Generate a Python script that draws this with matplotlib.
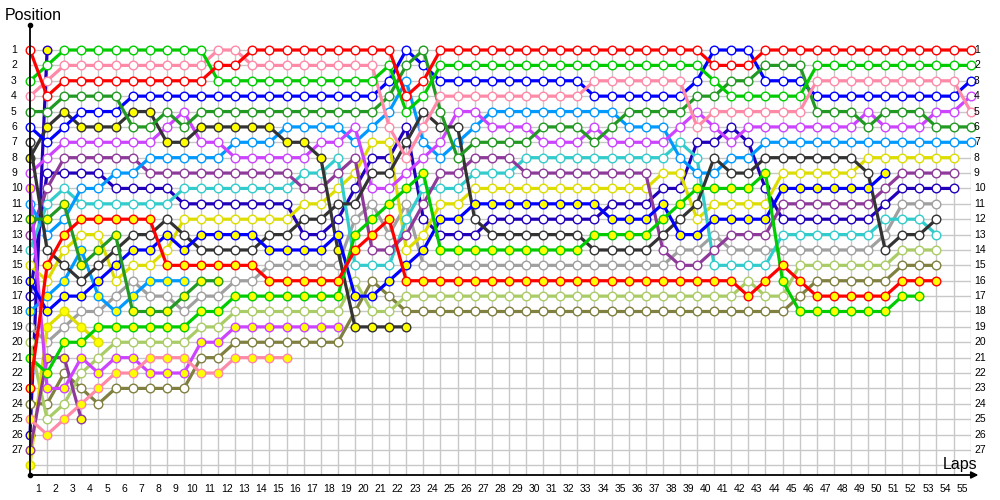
import matplotlib
matplotlib.use('Agg')
import matplotlib.pyplot as plt
from matplotlib.transforms import blended_transform_factory

# ---------------- data (position per lap, lap 0 = grid) ----------------
laps_total = 55
positions = list(range(1, 28))

red_w = [1,4,3, 3,3,3,3,3,3,3,3, 2,2, 1,1,1,1,1,1,1,1,1, 4,3,
         1,1,1,1,1,1,1,1,1,1,1,1,1,1,1,1, 2,2,2, 1,1,1,1,1,1,1,1,1,1,1,1,1]
green_w = [3,2, 1,1,1,1,1,1,1,1,1, 3,3,3,3,3,3,3,3,3,3, 2,5,4,
           2,2,2,2,2,2,2,2,2,2,2,2,2,2,2,2, 3, 4,4,4,4,4, 2,2,2,2,2,2,2,2,2,2]
pink_w = [4,3, 2,2,2,2,2,2,2,2,2, 1,1, 2,2,2,2,2,2,2,2, 6,8,6,
          4,4,4,4,4,4,4,4,4, 3,3,3,3,3,3, 6, 5,5,5,5,5,5, 3,3,3,3,3,3,3,3,3, 5]
dkgreen_w = [5,5, 4,4,4,4, 6,6,5,6, 5,5,5,5,5,5,5,5,5,5,5, 4,2,1,5,8,
             7,7,7,7, 6,6,6, 7,6, 5,5,5,5, 4,4, 3,3, 2,2,2, 5,5,5, 6, 5,5,5, 6,6,6]
blue_w = [6,7,6, 5,5,5, 4,4,4,4,4,4,4,4,4,4,4,4,4,4,4, 3,1,2,
          3,3,3,3,3,3,3,3,3, 4,4,4,4,4,4, 3, 1,1,1, 3,3,3, 4,4,4,4,4,4,4,4,4, 3]
black_w = [7,14,15,16,15,14,13,13,12,13, 14,14,14,14, 13,13, 12,12, 11,11, 9,9, 7,5, 6,6,
           12, 13,13,13,13,13,13, 14,14,14,14, 13,12,11, 8, 9,9, 8,8,8,8,8,8, 9, 14, 13,13, 12]
black_y = [8,6,5, 6,6,6, 5,5, 7,7, 6,6,6,6,6, 7,7, 8, 14, 19,19,19,19]
magenta_w = [9,8, 7,7,7,7,7,7, 6,5, 7,7, 8,8,8,8,8, 7,7, 6, 10,10, 9,8,7, 5,5,
             6,6,6, 7,7,7, 6, 7,7,7,7, 6,5,6,7, 6,6,6,6,6,6,6, 5, 6,6,6, 5,5, 4]
magenta_y = [10,23,23,21,22,21,21, 22,22,22, 20,20, 19,19,19,19,19,19,19]
ltblue_w = [11,13,12, 10,10, 9,9, 8,8,8,8,8, 7,7,7, 6,6,6,6, 7,6,5,3,7,8,7,6,
            5,5,5,5,5,5,5,5, 6,6,6, 8, 9,9, 8,8, 7,7,7,7,7,7,7,7,7,7,7,7,7]
ltblue_y = [18,17,16,14,17,18,17,16,16,16]
dkgreen_y = [12,12,11,15,14,13,18,18,18,17,16,16]
dkpurple_w = [13,10, 8,8,8,8,8, 9,9,9,9,9,9,9,9,9, 10,10, 9,8, 14,14, 13,11, 9,9,
              8,8,8, 9,9,9,9,9,9,9,9, 14, 15,15, 14, 13,13,13, 11,11,11,11,11,11, 10, 9,9,9,9]
dkpurple_y = [27,21,21,25]
cyan_w = [14,11,10, 11,11,11,11,11,11, 10,10,10,10,10,10,10, 9,9, 8, 15,15,15, 12,
          10,10,10, 9,9,9, 8,8,8,8,8,8,8,8,8, 7,8, 15,15,15,15, 13,13,13,13,13,13, 12,12,12, 13]
yellow_w = [15,16,14, 13,13, 16, 15,15, 14, 12,12,12,12,12,12,12, 11,11, 10, 9, 7,7, 14,13, 11,11,
            10,10,10,10,10,10,10,10,10,10,10, 9,9, 12, 11,11,11,11, 9,9,9,9,9, 8,8,8,8,8,8]
yellow_y = [28,19,18,19,20]
gray_w = [19,20,19, 18,18, 17,16, 17,17, 18, 17,17, 16,16, 15,15,15,15,15, 12,11,13,11,
          15,15,15,15,15,15,15,15,15,15,15,15,15,15,15, 14,14, 13, 14,14,14,14,14,14,14,14,14, 13, 11,11,11]
ltolive_w = [20,25,24,22,21, 20,20,20,20,20, 19,19, 18,18,18,18,18,18,18, 16, 18,18,
             17,17,17,17,17,17,17,17,17,17,17,17,17,17,17,17,17,17,17,17, 16, 17,17,
             15,15,15,15,15,15, 14,14,14]
olive_w = [24,24,22,23,24, 23,23,23,23,23, 21,21, 20,20,20,20,20,20,20, 18,16,17,
           18,18,18,18,18,18,18,18,18,18,18,18,18,18,18,18,18,18,18,18,18,18,18, 17,
           16,16,16,16,16, 15,15,15]
red_y = [23,15,13, 12,12,12,12,12, 15,15,15,15,15,15, 16,16,16,16,16, 14,13,12,
         16,16,16,16,16,16,16,16,16,16,16,16,16,16,16,16,16,16,16,16, 17,16,15,16,
         17,17,17,17,17, 16,16,16]
green_y = [21,22,20,20, 19,19,19,19,19,19, 18,18, 17,17,17,17,17,17,17, 13,12,11,10,9,
           14,14,14,14,14,14,14,14,14, 13,13,13,13, 12,11, 10,10,10,10, 9, 16,
           18,18,18,18,18,18, 17,17]
pink_y = [25,26,25,24,23,22,22,21,21,21,22,22,21,21,21,21]
blue_y = [16,18,17,17,16,15,14,14,13,14, 13,13,13,13, 14,14,14,14, 13, 17,17,16,15,14, 12,12,
          11,11,11,11,11,11,11,11, 12,12,12, 11, 13,13, 12,12,12,12, 10,10,10,10,10,10, 9]
dkblue_w = [17, 9,9,9,9, 10,10,10,10, 11,11,11,11,11,11,11, 13,13, 12, 10, 8,8, 6, 12, 13,13,13,
            12,12,12,12,12,12,12, 11,11,11, 10,10, 7,7, 6, 7, 10, 12,12,12,12,12,12, 11, 10,10,10,10]
dkblue_y = [26, 1]

WHITE = '#ffffff'
YELLOW = '#ffff00'
series = [
    (red_w, '#ff0000', WHITE), (red_y, '#ff0000', YELLOW),
    (green_w, '#00cc00', WHITE), (green_y, '#00cc00', YELLOW),
    (pink_w, '#ff8aa8', WHITE), (pink_y, '#ff8aa8', YELLOW),
    (dkgreen_w, '#229922', WHITE), (dkgreen_y, '#229922', YELLOW),
    (blue_w, '#0000ff', WHITE), (blue_y, '#0000ff', YELLOW),
    (black_w, '#333333', WHITE), (black_y, '#333333', YELLOW),
    (magenta_w, '#cc44ff', WHITE), (magenta_y, '#cc44ff', YELLOW),
    (ltblue_w, '#0099ff', WHITE), (ltblue_y, '#0099ff', YELLOW),
    (dkpurple_w, '#8e3a9a', WHITE), (dkpurple_y, '#8e3a9a', YELLOW),
    (cyan_w, '#33cccc', WHITE),
    (yellow_w, '#dddd00', WHITE), (yellow_y, '#dddd00', YELLOW),
    (gray_w, '#a0a0a0', WHITE),
    (ltolive_w, '#aacc66', WHITE),
    (olive_w, '#808040', WHITE),
    (dkblue_w, '#2200bb', WHITE), (dkblue_y, '#2200bb', YELLOW),
]

# ---------------- figure ----------------
plt.rcParams['font.family'] = ['Liberation Sans', 'DejaVu Sans']
fig = plt.figure(figsize=(10, 5), dpi=100)
ax = fig.add_axes([0.03, 0.05, 0.9407, 0.858])
YBOT, YTOP = 28.63, 0.74
ax.set_xlim(0, laps_total)
ax.set_ylim(YBOT, YTOP)
ax.set_xticks(range(1, laps_total + 1))
ax.set_yticks(range(1, 29))
ax.tick_params(length=0, labelbottom=False, labelleft=False)
ax.grid(True, color='#c8c8c8', lw=1.0)
ax.set_axisbelow(True)
for s in ax.spines.values():
    s.set_visible(False)

for vals, col, fill in reversed(series):
    ax.plot(range(len(vals)), vals, '-', color=col, lw=2.3, marker='o', ms=6.2,
            mfc=fill, mec=col, mew=1.0, clip_on=False, solid_joinstyle='round',
            solid_capstyle='round')

# axes with arrows
ax.plot([0, 0], [YBOT, -0.6], color='black', lw=1.3, clip_on=False, zorder=5)
ax.plot([0], [-0.6], marker='o', ms=3, color='black', clip_on=False, zorder=5)
ax.plot([0], [YBOT], marker='o', ms=3, color='black', clip_on=False, zorder=5)
ax.annotate('', xy=(55.45, YBOT), xytext=(0, YBOT),
            arrowprops=dict(arrowstyle='-|>', color='black', lw=1.3, mutation_scale=10,
                            shrinkA=0, shrinkB=0),
            annotation_clip=False, zorder=5)

# labels
tr = blended_transform_factory(fig.transFigure, ax.transData)
for p in positions:
    ax.text(0.011, p, str(p), transform=tr, ha='left', va='center', fontsize=7.5)
    ax.text(0.974, p, str(p), transform=tr, ha='left', va='center', fontsize=7.5)
trx = blended_transform_factory(ax.transData, fig.transFigure)
for k in range(1, laps_total + 1):
    ax.text(k - 0.5, 1 - 489 / 500, str(k), transform=trx, ha='center', va='center',
            fontsize=7.5)
fig.text(0.005, 1 - 15 / 500, 'Position', ha='left', va='center', fontsize=11.5)
fig.text(0.943, 1 - 465 / 500, 'Laps', ha='left', va='center', fontsize=11.5)

fig.savefig('out.png', dpi=100)
